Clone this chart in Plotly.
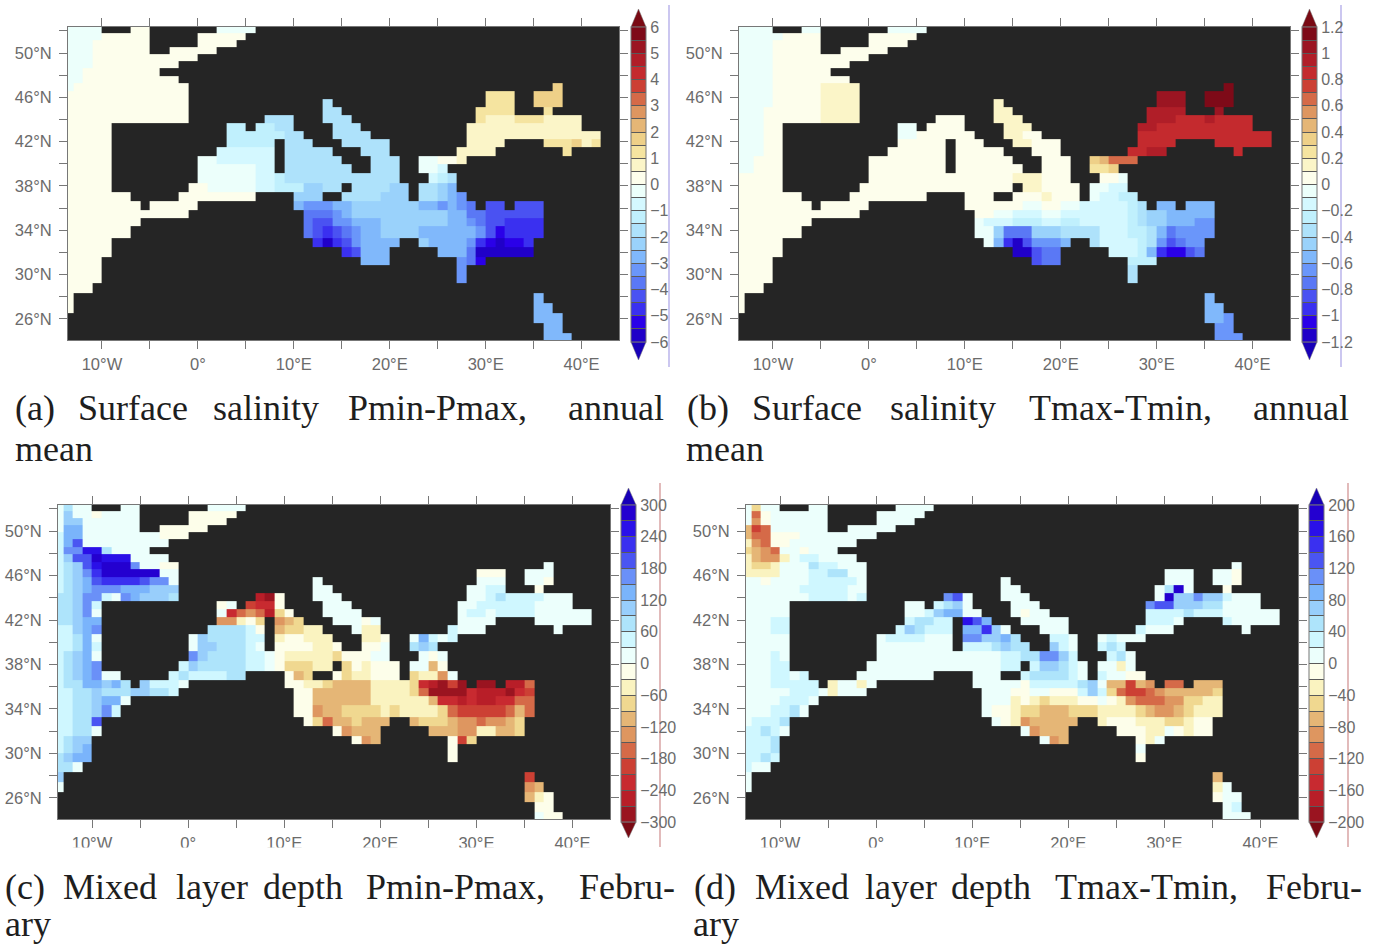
import re
import numpy as np
import plotly.graph_objects as go

# Cell edges of the model grid
LON_EDGES = list(range(-14, 45))
LAT_EDGES = [52.43, 51.81, 51.18, 50.55, 49.91, 49.26, 48.6, 47.93, 47.25, 46.56, 45.86, 45.15,
             44.44, 43.72, 42.99, 42.25, 41.5, 40.74, 39.97, 39.2, 38.3, 37.45, 36.62, 35.84,
             35.13, 34.35, 33.3, 32.5, 31.6, 30.85, 30.0, 29.2, 28.3, 27.4, 26.5, 25.6, 24.75, 23.9]

# Contour class of every cell, north to south, run-length coded: "." is land,
# letters run from the deepest blue class (a) towards the deepest red class.
SALT_PMIN = [
 "4l3.2m7.4l", "4l5m5.5m", "3l6m5.4m", "3l6m2.5m", "3l11m", "3l9m", "2l8m", "2l10m",
 "1l12m38.p", "13m31.3o2.3p", "13m14.i16.3o2.3p", "13m14.2i14.4o3.o",
 "13m8.3i3.3i13.o3n3o4n", "5m12.2j.2j2i4.3i11.12n", "5m12.6j2i3.4i10.14n",
 "5m12.5j.3i3.5i8.4n4.3opno", "5m11.6k.5i3.3i7.4n7.o", "5m9.2l6k.6i3.3i2.2l2mn",
 "5m9.6l2k.7i2.3i2.2lk", "5m9.6l2kj12i3.kji", "5m8.2m5l2k3j2h2i.4i2h.2ihg",
 "7m5.8m4.3h2.4i3h.2ihgf", "8m.5m10.g3f2g7h2gfgfe.2d.3d", "13m12.3efg3h4h3h2gee6d",
 "8m17.e2d2f3g4h3h2gfe2d4c", "7m18.edcdef2g4h5ggfdb4c", "5m21.cacdf4g2.h4gfcba2bc",
 "5m24.cd3g5.3ge6a", "4m27.3g7.feb", "4m37.f", "4m37.f", "3m", "m48.g", "m48.2g",
 "49.3g", "50.2g", "50.3g",
]
SALT_TMAX = [
 "4l3.2l7.4l", "5l4m5.5m", "4l5m5.4m", "4l5m2.5m", "4l10m", "4l8m", "4l6m", "4l8m",
 "4l5m4n38.x", "4l5m4n31.3w2.3x", "4l5m4n14.n16.3w2.3x", "3l6m4n14.2n14.4v3.w",
 "3l6m4n8.3m3.3n13.3v3uv4u", "3l2m12.2l.4m4.3n11.2v10u", "3l2m12.2l6m3.2n2m10.14u",
 "3l2m12.5m.3m3.2n3m8.4u4.6u", "3l2m11.6m.5m3.3m7.2u2v7.u", "2l3m9.8m.6m3.3m2.pq3s",
 "2l3m9.8m.7m2.3m2.2op", "5m9.15m3n3m3.2ml", "5m8.16m.2n4m.2l2k",
 "7m5.8m4.3m2.3mn3m.l2k2j", "8m.5m10.6m2l2m2l3k2kji.2g.3g", "13m12.2m2l3k2l2k5kji2h5g",
 "8m17.l3k3j2k2j5kji2h3g2f", "7m18.2lh3e3h4i3k2jige4f", "5m21.lgcad3fg2.i4kjifde2f",
 "5m24.2ad2e5.3kjgc2bde", "4m27.d2e7.3j", "4m37.i", "4m37.i", "3m", "m48.g", "m48.2g",
 "49.2gf", "50.2f", "50.3f",
]
MLD_PMIN = [
 "jh2j3.2j7.4j", "jg2jk4j5.5k", "j2g6j5.4k", "j2f6j2.5k", "i2f8j3k", "ifd9j", "i2e2bh4j",
 "ig2da3b4j", "ihgdb3ae2j2k38.j", "ihgec6a2j31.3k2.3j", "ihgfd4cd2ej14.j16.3j2.2jk",
 "ihgf3e3f3g14.2j14.2j2i3.k", "2hg2eijef3gh8.stk3.3j13.2jih4i3j",
 "2hgei12.kj.q2rk4.3j11.2j6i4j", "2hgej12.jrpopsmk3.4j10.j2ij4i6j",
 "2hg2f12.2olkm.onm3.3jkj8.4j4.6j", "2igfe11.4hik.n2m2l3.j2l7.i3j7.j",
 "2ihfj9.jg4h2i.l2k3l3.2lk2.jfiji", "2ihfi9.j2g3hij.4k2lk2.2kj2.hgh",
 "ihgfj9.eg4h2ijk5lm3k2j3.jkj", "ihgfe8.ig5h2ijk3m2l.mkl3k.2jnk",
 "ihgfe2j5.ih4i2h4.knm2.km2l3k.m2loj", "i2h2fgfh.g3ij10.2k2lm4n4lmrstqt.2t.2sp",
 "2i2hg3h2g2hi12.2k6n4lmp4tr3strq", "2i2hg2fj17.2k6n6ln2rsr2s2r2p",
 "2i2hgei18.2ko2n4mlm4lmp5qpnp", "2i2hd21.kmp2nm3n2.n3mn2op2onm",
 "2i2hj24.ko3n5.3n2o2l2nm", "ih2g27.kon7.kqm", "ihgf37.k", "hg2f37.k", "2hj", "g48.q",
 "j48.on", "49.nlk", "50.2k", "50.j2k",
]
MLD_TMAX = [
 "jm2j3.2j7.4j", "jpk6j5.5j", "jok6j5.4j", "nqp6j2.5j", "n2p3k8j", "lop2k7j", "mnop2jk3j",
 "ln2olj2i4j", "l2ml3jh2i3j38.j", "4l3j2i2h2j31.3j2.2jk", "2jk4j5ij14.j16.3j2.2jk",
 "6j5i2j14.2j14.jhaj3.k", "7j4iji8.edj3.3j13.ja2ge2gi3j",
 "5j12.2j.ihgj4.3j11.e2d3g2h4j", "5j12.2jig2f2j3.jk2j10.4ih3i6j",
 "3j2i12.i2h2i.bdf3.5j8.3ij4.i5j", "3j2i11.igh3i.2fcgj3.3j7.i3j7.j",
 "5j9.j4i3j.2e2gfh3.2ij2.ji3j", "5j9.8j.3ihg2h2.gij2.ihi",
 "3jij9.13j2i2h2egi3.ihj", "3j2i8.14j2i.i2ghij.2jlj",
 "3j2iji5.8j4.3j2.i4hij.i2j2k", "3j5i.l2jlj10.5jk5ihgj2nqno.2p.3n",
 "5j3ijl3j12.3j2k2j3kigimp2qpo5nm", "4j3ij17.3jlklm3l2kjklo3p2o2m2l",
 "3j2ihj18.j2kl2m3n3m4lmn2onm3l", "j3ih21.jklo5n2.l3k3l2ml2k",
 "2ihij24.jo3n5.3k2ljkl2k", "3ih27.jon7.klj", "3ih37.j", "2ihi37.k", "i2j", "j48.n",
 "j48.lj", "49.k2j", "50.ji", "50.3j",
]

# Class colours, blue end first
COLORS_24 = ["#2000c8", "#2a00e8", "#3a30f0", "#4a52f2", "#5a78f5", "#6a96fa", "#80b8fb", "#9ad2fb",
             "#aee2fb", "#c0f0fd", "#d4f8ff", "#ecfffb", "#fdfeec", "#fbf5c8", "#f5e4a0", "#eed088",
             "#e5b676", "#de9660", "#d56a48", "#cc4034", "#c42a2e", "#b01e28", "#9b1522", "#7e0a18"]
COLORS_20 = ["#2400d0", "#2a10e8", "#3a30f0", "#4a55f2", "#6a90f8", "#7ab4fb", "#98cefb", "#aee4fb",
             "#cff7ff", "#ecfffc", "#fdfeea", "#faf3c0", "#f0d890", "#e5b676", "#de9660", "#d56a48",
             "#cc4034", "#c82a30", "#b81e28", "#9a1420"]

TICKS_SALT_P = [6, 5, 4, 3, 2, 1, 0, -1, -2, -3, -4, -5, -6]
TICKS_SALT_T = [1.2, 1, 0.8, 0.6, 0.4, 0.2, 0, -0.2, -0.4, -0.6, -0.8, -1, -1.2]
TICKS_MLD_P = [300, 240, 180, 120, 60, 0, -60, -120, -180, -240, -300]
TICKS_MLD_T = [200, 160, 120, 80, 40, 0, -40, -80, -120, -160, -200]

LAT_TICKS = list(range(26, 53, 2))
LON_TICKS = list(range(-10, 41, 5))
FONT = "Liberation Sans"
GREY = "#6b6b6b"
W, H = 1384, 945


def decode(rows, to_value):
    out = []
    for row in rows:
        cells = []
        for count, ch in re.findall(r"(\d*)([a-z.])", row):
            cells += [np.nan if ch == "." else to_value(ord(ch) - 97)] * int(count or 1)
        if len(cells) > len(LON_EDGES) - 1:
            raise ValueError(f"row too long: {row} {len(cells)}")
        cells += [np.nan] * (len(LON_EDGES) - 1 - len(cells))
        out.append(cells)
    return np.array(out[::-1], dtype=float)


def fmt(v):
    return str(v).replace("-", "\u2212")


def lon_label(v):
    return "0°" if v == 0 else f"{abs(v)}°{'W' if v < 0 else 'E'}"


panels = [
    dict(rows=SALT_PMIN, box=(68, 619, 27, 340), lim=6, n=24, colors=COLORS_24, ticks=TICKS_SALT_P,
         bar=(631, 27, 342, 9, 360), rule=(669, 5, 367, "#a9a2e6"), flip=False),
    dict(rows=SALT_TMAX, box=(739, 1290, 27, 340), lim=1.2, n=24, colors=COLORS_24, ticks=TICKS_SALT_T,
         bar=(1302, 27, 342, 9, 360), rule=(1341, 5, 367, "#a9a2e6"), flip=False),
    dict(rows=MLD_PMIN, box=(58, 610, 505, 819), lim=300, n=20, colors=COLORS_20, ticks=TICKS_MLD_P,
         bar=(621, 505, 822, 488, 838), rule=(660, 483, 847, "#cf8d8d"), flip=True),
    dict(rows=MLD_TMAX, box=(746, 1298, 505, 819), lim=200, n=20, colors=COLORS_20, ticks=TICKS_MLD_T,
         bar=(1309, 505, 822, 488, 838), rule=(1348, 483, 847, "#cf8d8d"), flip=True),
]

fig = go.Figure()
shapes, annotations = [], []
layout = {}

for k, p in enumerate(panels):
    step = 2 * p["lim"] / p["n"]
    if p["flip"]:
        to_value = lambda i, p=p, step=step: p["lim"] - (i + 0.5) * step
        scale_cols = p["colors"][::-1]
    else:
        to_value = lambda i, p=p, step=step: -p["lim"] + (i + 0.5) * step
        scale_cols = p["colors"]
    z = decode(p["rows"], to_value)
    colorscale = []
    for i, c in enumerate(scale_cols):
        colorscale += [[i / p["n"], c], [(i + 1) / p["n"], c]]

    levels = [round(-p["lim"] + i * step, 6) for i in range(p["n"] + 1)]
    labelled = {round(t, 6): fmt(t) for t in p["ticks"]}
    x0, y0, y1, tip_top, tip_bot = p["bar"]
    thick = 15
    xn = "x" if k == 0 else f"x{k + 1}"
    yn = "y" if k == 0 else f"y{k + 1}"
    fig.add_trace(go.Heatmap(
        z=z, x=LON_EDGES, y=LAT_EDGES[::-1], xaxis=xn, yaxis=yn,
        zmin=-p["lim"], zmax=p["lim"], colorscale=colorscale, hoverongaps=False,
        colorbar=dict(
            x=x0 / W, xanchor="left", xpad=0, thickness=thick, thicknessmode="pixels",
            y=1 - y1 / H, yanchor="bottom", ypad=0, len=y1 - y0, lenmode="pixels",
            tickmode="array", tickvals=levels,
            ticktext=[labelled.get(v, "") for v in levels],
            ticks="inside", ticklen=thick, tickwidth=1, tickcolor="#5a5a5a",
            tickfont=dict(family=FONT, size=16, color=GREY),
            outlinecolor="#777777", outlinewidth=1,
        ),
    ))

    l, r, t, b = p["box"]
    common = dict(showgrid=False, zeroline=False, showline=True, linecolor="#777777", linewidth=1,
                  mirror="ticks", ticks="outside", ticklen=8, tickwidth=1, tickcolor="#777777",
                  tickmode="array")
    layout["xaxis" if k == 0 else f"xaxis{k + 1}"] = dict(
        domain=[l / W, r / W], range=[-13.54, 43.9], anchor=yn, tickvals=LON_TICKS,
        ticktext=[lon_label(v) if v % 10 == 0 else "" for v in LON_TICKS],
        tickfont=dict(family=FONT, size=16.5, color=GREY), ticklabelstandoff=1, **common)
    layout["yaxis" if k == 0 else f"yaxis{k + 1}"] = dict(
        domain=[1 - b / H, 1 - t / H], range=[24.1, 52.35], anchor=xn, tickvals=LAT_TICKS,
        ticktext=[f"{v}°N" if (v - 26) % 4 == 0 else "" for v in LAT_TICKS],
        tickfont=dict(family=FONT, size=16.5, color=GREY), ticklabelstandoff=4, **common)

    # Over-range arrows of the colour bar
    bottom_col = "#7a0a14" if p["flip"] else "#1800b8"
    top_col = "#1800b8" if p["flip"] else "#7a0a14"
    def pt(xp, yp):
        return f"{xp / W:.5f} {1 - yp / H:.5f}"
    shapes.append(dict(type="path", xref="paper", yref="paper", fillcolor=top_col,
                       line=dict(color="#777777", width=0.5),
                       path=f"M {pt(x0, y0)} L {pt(x0 + thick, y0)} L {pt(x0 + thick / 2, tip_top)} Z"))
    shapes.append(dict(type="path", xref="paper", yref="paper", fillcolor=bottom_col,
                       line=dict(color="#777777", width=0.5),
                       path=f"M {pt(x0, y1)} L {pt(x0 + thick, y1)} L {pt(x0 + thick / 2, tip_bot)} Z"))
    rx, ry0, ry1, rc = p["rule"]
    shapes.append(dict(type="line", xref="paper", yref="paper", x0=rx / W, x1=rx / W,
                       y0=1 - ry0 / H, y1=1 - ry1 / H, line=dict(color=rc, width=1.2)))

# The bottom figures are cropped through their longitude labels
for x_a, x_b in [(40, 620), (730, 1305)]:
    shapes.append(dict(type="rect", xref="paper", yref="paper", x0=x_a / W, x1=x_b / W,
                       y0=1 - 862 / H, y1=1 - 847.5 / H, fillcolor="white", line=dict(width=0)))

CAPTIONS = [
    (408, [("(a)", 13), ("Surface", 76), ("salinity", 211), ("Pmin-Pmax,", 346), ("annual", 566)]),
    (449, [("mean", 13)]),
    (408, [("(b)", 685), ("Surface", 750), ("salinity", 888), ("Tmax-Tmin,", 1027), ("annual", 1251)]),
    (449, [("mean", 684)]),
    (887, [("(c)", 3), ("Mixed", 61), ("layer", 174), ("depth", 261), ("Pmin-Pmax,", 364), ("Febru-", 577)]),
    (924, [("ary", 3)]),
    (887, [("(d)", 692), ("Mixed", 753), ("layer", 863), ("depth", 949), ("Tmax-Tmin,", 1053), ("Febru-", 1264)]),
    (924, [("ary", 691)]),
]
for yp, words in CAPTIONS:
    for word, xp in words:
        annotations.append(dict(text=word, xref="paper", yref="paper", x=xp / W, y=1 - yp / H,
                                xanchor="left", yanchor="middle", showarrow=False,
                                font=dict(family="Liberation Serif", size=36, color="#1e1e1e")))

fig.update_layout(
    width=W, height=H, margin=dict(l=0, r=0, t=0, b=0, pad=0, autoexpand=False),
    paper_bgcolor="white", plot_bgcolor="#252525", showlegend=False,
    shapes=shapes, annotations=annotations, **layout,
)
fig.write_html("out.html", config={"displayModeBar": False},
               post_script="document.body.style.margin='0';document.documentElement.style.overflow='hidden';")
